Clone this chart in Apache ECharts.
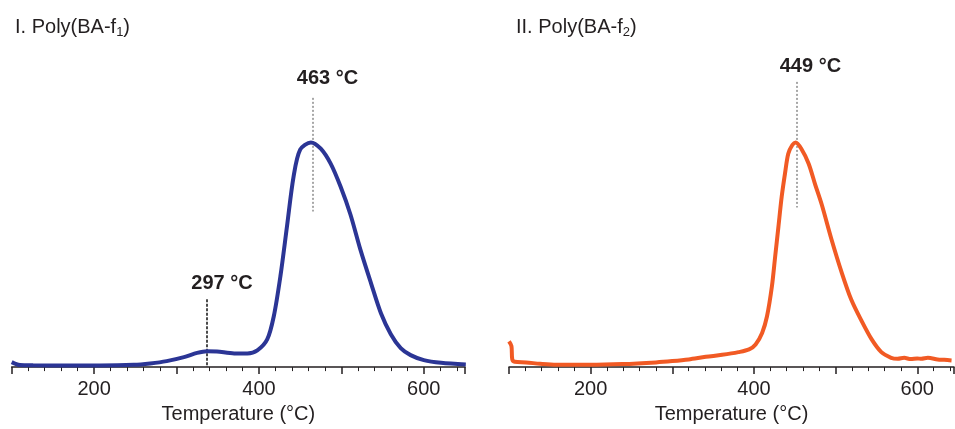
<!DOCTYPE html>
<html>
<head>
<meta charset="utf-8">
<script src="https://cdn.jsdelivr.net/npm/echarts@6/dist/echarts.min.js"></script>
<style>html,body{margin:0;padding:0;background:#fff}#c{width:955px;height:429px}</style>
</head>
<body>
<div id="c"></div>
<script>
// Poly(BA-f1) DTG curve (arbitrary units above baseline)
const tempBA1 = [100,110,126,167,207,248,268,288,309,325,337,349,370,386,398,410,418,426,434,442,450,463,475,487,499,511,523,536,548,560,572,584,600,621,651];
const dtgBA1  = [5,2,1.8,1.7,1.7,2.3,3.7,6,10,14.3,16,15.7,13.7,13.7,16.7,27.7,51,91,141,191,218,225.3,219,204,181,153,118,84,54,33,19,12,7,4.3,2.7];
// Poly(BA-f2) DTG curve
const tempBA2 = [100,103,104,107,121,138,158,199,239,280,300,320,341,361,381,394,402,410,416,422,426,430,434,438,442,447,451,458,467,475,483,495,507,519,532,544,556,568,576,584,592,600,605,613,625,633,642];
const dtgBA2  = [25.7,21,7.7,5.3,4.7,3.3,2.3,2.3,3,4.7,6,7.7,10.3,12.3,15,17.7,22.7,34.3,51,81,111,141,171,194,214,222.7,225.3,219,204,183,163,128,96,68,46,28,15,9.3,8.3,9.3,8,8.7,8.3,9.3,7.7,7.3,6.7];
// annotations
const peaksBA1 = [{label:'463 °C', t:465}, {label:'297 °C', t:337}];
const peaksBA2 = [{label:'449 °C', t:452}];
const xTicksShown = [200,400,600];

const font = '"Liberation Sans", Arial, sans-serif';
const ink = '#231f20';

function xAxis(gi, max){
  return {
    type:'value', gridIndex:gi, min:100, max:max, interval:100,
    name:'Temperature (°C)', nameLocation:'middle', nameGap:36,
    nameTextStyle:{fontFamily:font, fontSize:20, color:ink},
    axisLine:{show:true, onZero:false, lineStyle:{color:ink, width:1.5}},
    axisTick:{show:true, length:7, lineStyle:{color:ink, width:1.5}},
    minorTick:{show:true, splitNumber:5, length:4, lineStyle:{color:ink, width:1}},
    splitLine:{show:false}, minorSplitLine:{show:false},
    axisLabel:{fontFamily:font, fontSize:20, color:ink, margin:12, showMaxLabel:false,
      formatter:v => xTicksShown.includes(v) ? String(v) : ''}
  };
}
function yAxis(gi){
  return {type:'value', gridIndex:gi, min:0, max:328, show:false};
}
const annoLabel = {show:true, fontFamily:font, fontSize:20, fontWeight:'bold', color:ink};
const titleRich = {
  a:{fontFamily:font,fontSize:20,fontWeight:'normal',color:ink,lineHeight:24},
  s:{fontFamily:font,fontSize:13,fontWeight:'normal',color:ink,lineHeight:24,verticalAlign:'bottom',padding:[8,0,0,0]}
};

const chart = echarts.init(document.getElementById('c'), null, {renderer:'canvas'});
chart.setOption({
  animation:false,
  backgroundColor:'#fff',
  title:[
    {left:10, top:10, text:'{a|I. Poly(BA-f}{s|1}{a|)}', textStyle:{fontWeight:'normal', rich:titleRich}},
    {left:511, top:10, text:'{a|II. Poly(BA-f}{s|2}{a|)}', textStyle:{fontWeight:'normal', rich:titleRich}}
  ],
  grid:[
    {left:11.7, right:490, top:40, bottom:61},
    {left:509, right:1, top:40, bottom:61}
  ],
  xAxis:[xAxis(0,650), xAxis(1,645)],
  yAxis:[yAxis(0), yAxis(1)],
  series:[
    {
      type:'line', xAxisIndex:0, yAxisIndex:0, smooth:0.3, showSymbol:false, symbol:'none',
      data: tempBA1.map((t,i)=>[t, dtgBA1[i]]),
      lineStyle:{color:'#2b3595', width:4}, itemStyle:{color:'#2b3595'}, z:5,
      markLine:{silent:true, symbol:'none', label:{show:false},
        data:[
          [{coord:[peaksBA1[0].t,270], lineStyle:{color:'#8a8a8a', type:[2,2], width:1.5}},{coord:[peaksBA1[0].t,156]}],
          [{coord:[peaksBA1[1].t,68], lineStyle:{color:'#111', type:[3,1.5], width:1.5}},{coord:[peaksBA1[1].t,0]}]
        ]},
      markPoint:{symbol:'circle', symbolSize:0, silent:true,
        data:[
          {coord:[peaksBA1[0].t,289], label:Object.assign({}, annoLabel, {formatter:peaksBA1[0].label, offset:[15,0]})},
          {coord:[peaksBA1[1].t,84], label:Object.assign({}, annoLabel, {formatter:peaksBA1[1].label, offset:[15,0]})}
        ]}
    },
    {
      type:'line', xAxisIndex:1, yAxisIndex:1, smooth:0.3, showSymbol:false, symbol:'none',
      data: tempBA2.map((t,i)=>[t, dtgBA2[i]]),
      lineStyle:{color:'#f15a24', width:4}, itemStyle:{color:'#f15a24'}, z:5,
      markLine:{silent:true, symbol:'none', label:{show:false},
        data:[
          [{coord:[peaksBA2[0].t,286], lineStyle:{color:'#8a8a8a', type:[2,2], width:1.5}},{coord:[peaksBA2[0].t,160]}]
        ]},
      markPoint:{symbol:'circle', symbolSize:0, silent:true,
        data:[
          {coord:[peaksBA2[0].t,301], label:Object.assign({}, annoLabel, {formatter:peaksBA2[0].label, offset:[14,0]})}
        ]}
    }
  ]
});
</script>
</body>
</html>
